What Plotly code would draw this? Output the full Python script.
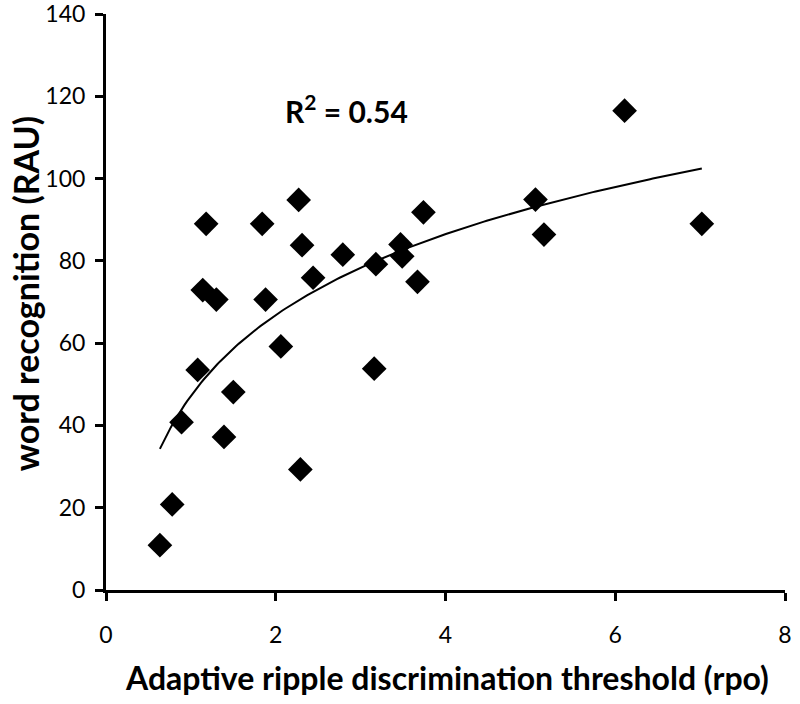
import numpy as np
import plotly.graph_objects as go

threshold_rpo = [0.635, 0.78, 0.89, 1.08, 1.14, 1.30, 1.18, 1.39, 1.50, 1.84, 1.88, 2.06, 2.27, 2.31,
                 2.29, 2.44, 2.79, 3.18, 3.16, 3.47, 3.49, 3.67, 3.74, 5.06, 5.16, 6.11, 7.02]
word_rau = [10.9, 20.8, 40.8, 53.5, 72.9, 70.6, 89.0, 37.2, 48.1, 89.0, 70.6, 59.2, 94.8, 83.8,
            29.3, 75.9, 81.5, 79.2, 53.8, 84.0, 81.1, 74.9, 91.8, 94.9, 86.4, 116.5, 89.0]
x_ticks = [0, 2, 4, 6, 8]
y_ticks = [0, 20, 40, 60, 80, 100, 120, 140]
x_title = "Adaptive ripple discrimination threshold (rpo)"
y_title = "word recognition (RAU)"
r2_text = "R<sup>2</sup> = 0.54"

# logarithmic trendline fitted to the data
xa = np.array(threshold_rpo)
ya = np.array(word_rau)
a, b = np.polyfit(np.log(xa), ya, 1)
xf = np.linspace(xa.min(), xa.max(), 200)
yf = a * np.log(xf) + b

fig = go.Figure()
fig.add_trace(go.Scatter(x=xf, y=yf, mode="lines", line=dict(color="black", width=2), hoverinfo="skip"))
fig.add_trace(go.Scatter(x=threshold_rpo, y=word_rau, mode="markers",
                         marker=dict(symbol="diamond", size=19, color="black")))

font_fam = "Lato, 'Open Sans', sans-serif"
axis_common = dict(showgrid=False, zeroline=False, showline=True, linecolor="black", linewidth=3,
                   ticks="outside", ticklen=8, tickwidth=3, tickcolor="black",
                   tickfont=dict(size=23), automargin=False, ticklabeloverflow="allow")
fig.update_layout(
    width=800, height=704,
    margin=dict(l=106, r=15, t=14, b=114),
    paper_bgcolor="white", plot_bgcolor="white",
    showlegend=False,
    font=dict(family=font_fam, color="black", size=20),
    xaxis=dict(range=[0, 8], tickvals=x_ticks, ticklabelstandoff=14, **axis_common),
    yaxis=dict(range=[0, 140], tickvals=y_ticks, ticklabelstandoff=5, **axis_common),
    annotations=[
        dict(x=2.83, y=117, xref="x", yref="y", text="<b>" + r2_text + "</b>",
             showarrow=False, font=dict(size=30, color="black")),
        dict(x=0.502, y=0, xref="paper", yref="paper", yanchor="middle", yshift=-87,
             text="<b>" + x_title + "</b>", showarrow=False, font=dict(size=32, color="black")),
        dict(x=0, y=0.515, xref="paper", yref="paper", xanchor="center", xshift=-81,
             text="<b>" + y_title + "</b>", textangle=-90, showarrow=False,
             font=dict(size=34, color="black")),
    ],
)
fig.write_html("out.html", config={"displayModeBar": False},
               post_script="document.body.style.margin='0px';")
